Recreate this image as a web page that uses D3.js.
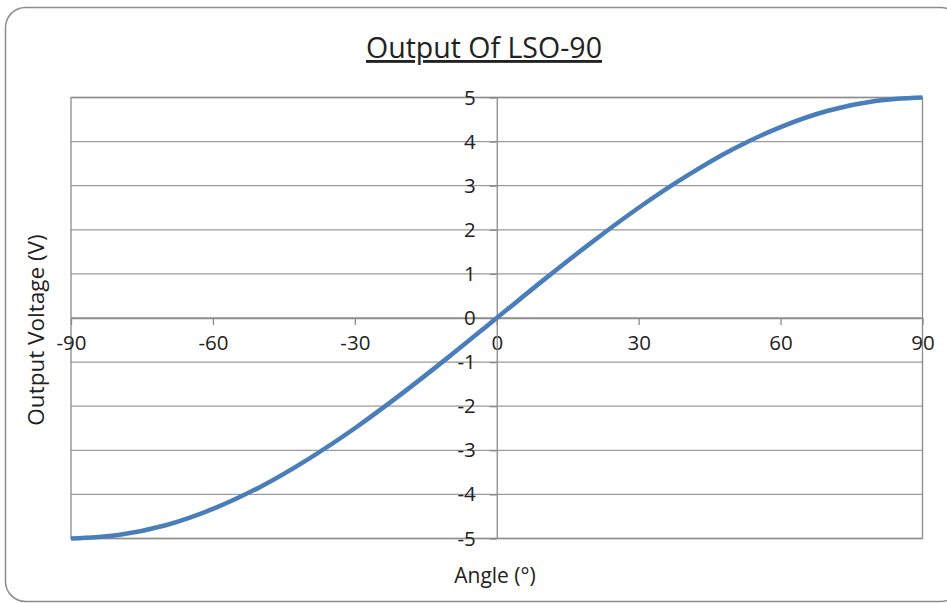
<!DOCTYPE html>
<html>
<head>
<meta charset="utf-8">
<script src="https://cdn.jsdelivr.net/npm/d3@7"></script>
<style>
  html, body { margin: 0; padding: 0; background: #fff; }
  svg text { font-family: "Open Sans", "Noto Sans", sans-serif; fill: #222; }
</style>
</head>
<body>
<div id="chart"></div>
<script>
// values
const angles = [-90, -80, -70, -60, -50, -40, -30, -20, -10, 0, 10, 20, 30, 40, 50, 60, 70, 80, 90]
const volts = [-5, -4.92, -4.7, -4.33, -3.83, -3.21, -2.5, -1.71, -0.87, 0, 0.87, 1.71, 2.5, 3.21, 3.83, 4.33, 4.7, 4.92, 5]
const xTicks = [-90, -60, -30, 0, 30, 60, 90]
const yTicks = [-5, -4, -3, -2, -1, 0, 1, 2, 3, 4, 5]

const W = 947, H = 603
const plot = { left: 71, right: 922.5, top: 97.5, bottom: 538.5 }
const fmt = d => String(d)   // plain hyphen minus, like the original

const svg = d3.select('#chart').append('svg')
  .attr('width', W).attr('height', H)

// outer chart frame
svg.append('rect')
  .attr('x', 5.5).attr('y', 7.5)
  .attr('width', 955).attr('height', 594)
  .attr('rx', 20).attr('ry', 20)
  .attr('fill', '#fff')
  .attr('stroke', '#8c8c8c').attr('stroke-width', 1.5)

const x = d3.scaleLinear().domain([-90, 90]).range([plot.left, plot.right])
const y = d3.scaleLinear().domain([-5, 5]).range([plot.bottom, plot.top])

// horizontal gridlines
svg.append('g').selectAll('line')
  .data(yTicks)
  .enter().append('line')
    .attr('x1', plot.left).attr('x2', plot.right)
    .attr('y1', d => y(d)).attr('y2', d => y(d))
    .style('stroke', '#9a9a9a')
    .style('stroke-width', 1.3)

// plot area border
svg.append('rect')
  .attr('x', plot.left).attr('y', plot.top)
  .attr('width', plot.right - plot.left).attr('height', plot.bottom - plot.top)
  .attr('fill', 'none')
  .style('stroke', '#8c8c8c').style('stroke-width', 1.3)

// x axis sits on y = 0
const xAxis = svg.append('g')
  .attr('transform', `translate(0,${y(0)})`)
  .call(d3.axisBottom(x).tickValues(xTicks).tickFormat(fmt).tickSize(7).tickPadding(10).tickSizeOuter(0))
xAxis.select('.domain').style('stroke', '#8c8c8c').style('stroke-width', 1.3)
xAxis.selectAll('.tick line').style('stroke', '#8c8c8c').style('stroke-width', 1.3)
xAxis.selectAll('.tick text')
  .style('font-size', '20.5px')
  .attr('fill', '#222')
  .attr('dy', '0.71em')

// y axis sits on x = 0
const yAxis = svg.append('g')
  .attr('transform', `translate(${x(0)},0)`)
  .call(d3.axisLeft(y).tickValues(yTicks).tickFormat(fmt).tickSize(7).tickPadding(14).tickSizeOuter(0))
yAxis.select('.domain').style('stroke', '#8c8c8c').style('stroke-width', 1.3)
yAxis.selectAll('.tick line').style('stroke', '#8c8c8c').style('stroke-width', 1.3)
yAxis.selectAll('.tick text')
  .style('font-size', '20.5px')
  .attr('fill', '#222')

// the curve
const line = d3.line()
  .x((d, i) => x(angles[i]))
  .y(d => y(d))
  .curve(d3.curveMonotoneX)

svg.append('path')
  .datum(volts)
  .attr('d', line)
  .attr('fill', 'none')
  .style('stroke', '#4a7ebb')
  .style('stroke-width', 4.5)
  .style('stroke-linecap', 'butt')

// title
svg.append('text')
  .attr('x', 484).attr('y', 58)
  .attr('text-anchor', 'middle')
  .style('font-size', '28.5px')
  .style('text-decoration', 'underline')
  .text('Output Of LSO-90')

// axis titles
svg.append('text')
  .attr('x', 495).attr('y', 583)
  .attr('text-anchor', 'middle')
  .style('font-size', '21px')
  .text('Angle (°)')

svg.append('text')
  .attr('transform', 'translate(44,330) rotate(-90)')
  .attr('text-anchor', 'middle')
  .style('font-size', '22.5px')
  .text('Output Voltage (V)')
</script>
</body>
</html>
